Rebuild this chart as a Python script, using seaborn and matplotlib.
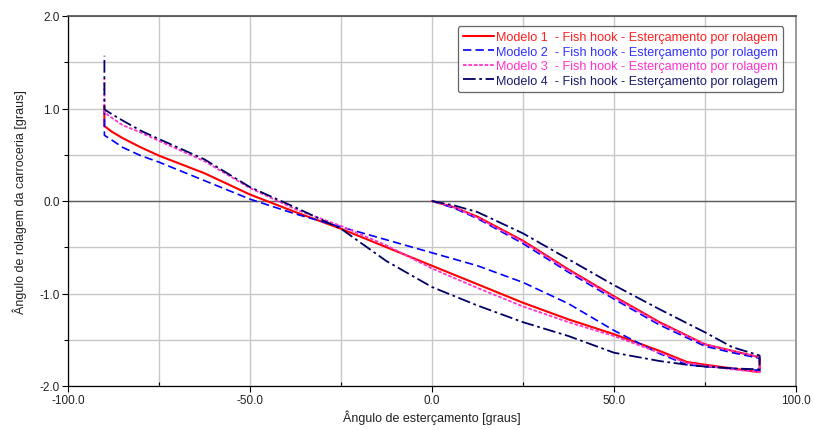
import numpy as np
import pandas as pd
import matplotlib
matplotlib.use("Agg")
import matplotlib.pyplot as plt
from matplotlib.ticker import MultipleLocator, FormatStrFormatter
import seaborn as sns

# steering angle path: 0 -> +90 (upper branch), hold, +90 -> -90 (lower branch), hold
x_up = [0, 6.25, 12.5, 25, 37.5, 50, 62.5, 75, 82.5, 90]
x_down = [90, 82.5, 75, 70, 62.5, 50, 37.5, 25, 12.5, 0, -12.5, -25, -37.5, -50,
          -62.5, -75, -80, -85, -88, -90, -90]

# roll angle, one list per model
m1_up = [0, -0.07, -0.17, -0.43, -0.74, -1.03, -1.31, -1.55, -1.62, -1.69]
m1_down = [-1.85, -1.81, -1.77, -1.74, -1.62, -1.44, -1.28, -1.10, -0.90, -0.70, -0.50,
           -0.30, -0.12, 0.07, 0.30, 0.49, 0.58, 0.68, 0.75, 0.81, 1.03]

m2_up = [0, -0.08, -0.19, -0.46, -0.77, -1.06, -1.34, -1.57, -1.64, -1.70]
m2_down = [-1.83, -1.81, -1.79, -1.77, -1.65, -1.40, -1.11, -0.88, -0.70, -0.56, -0.42,
           -0.28, -0.14, 0.02, 0.22, 0.42, 0.49, 0.58, 0.66, 0.71, 0.98]

m3_up = [0, -0.07, -0.18, -0.44, -0.75, -1.04, -1.32, -1.55, -1.62, -1.69]
m3_down = [-1.85, -1.82, -1.78, -1.75, -1.64, -1.46, -1.31, -1.14, -0.94, -0.73, -0.48,
           -0.27, -0.09, 0.14, 0.43, 0.65, 0.74, 0.82, 0.90, 0.96, 1.32]

m4_up = [0, -0.05, -0.12, -0.35, -0.63, -0.91, -1.17, -1.42, -1.58, -1.67]
m4_down = [-1.82, -1.81, -1.79, -1.77, -1.73, -1.64, -1.46, -1.31, -1.13, -0.93, -0.65,
           -0.30, -0.07, 0.15, 0.45, 0.67, 0.76, 0.87, 0.94, 0.99, 1.57]

labels = ["Modelo 1  - Fish hook - Esterçamento por rolagem",
          "Modelo 2  - Fish hook - Esterçamento por rolagem",
          "Modelo 3  - Fish hook - Esterçamento por rolagem",
          "Modelo 4  - Fish hook - Esterçamento por rolagem"]
colors = ["#ff0000", "#0000ff", "#ff33cc", "#000066"]
text_colors = ["#ff2020", "#3030ff", "#ff33cc", "#1a1a70"]
dashes = [None, (5, 2.5), (2, 1), (7, 2, 1.5, 2)]
widths = [1.5, 1.2, 1.3, 1.3]

sns.set_theme(style="white")
plt.rcParams["font.family"] = ["Liberation Sans", "DejaVu Sans"]

fig = plt.figure(figsize=(8.14, 4.31), dpi=100)
ax = fig.add_axes([68 / 814, 1 - 387 / 431, (796 - 68) / 814, (387 - 17) / 431])

models = [(m1_up, m1_down), (m2_up, m2_down), (m3_up, m3_down), (m4_up, m4_down)]
for i, (up, down) in enumerate(models):
    df = pd.DataFrame({"x": x_up + x_down, "y": up + down})
    sns.lineplot(data=df, x="x", y="y", sort=False, estimator=None, ax=ax,
                 color=colors[i], linewidth=widths[i], label=labels[i])
    if dashes[i] is not None:
        ax.get_lines()[-1].set_dashes(dashes[i])

ax.set_xlim(-100, 100)
ax.set_ylim(-2, 2)
ax.xaxis.set_major_locator(MultipleLocator(50))
ax.xaxis.set_minor_locator(MultipleLocator(25))
ax.yaxis.set_major_locator(MultipleLocator(1))
ax.yaxis.set_minor_locator(MultipleLocator(0.5))
ax.xaxis.set_major_formatter(FormatStrFormatter("%.1f"))
ax.yaxis.set_major_formatter(FormatStrFormatter("%.1f"))
ax.grid(True, which="both", color="#c8c8c8", linewidth=1.0)
ax.axhline(0, color="#606060", linewidth=1.0, zorder=1.5)
ax.set_axisbelow(True)

ax.tick_params(axis="both", which="major", direction="out", length=4, width=0.8,
               labelsize=8.5, labelcolor="#222222", color="black", bottom=True, left=True)
ax.tick_params(axis="y", which="minor", direction="out", length=3, width=0.8,
               color="black", left=True)
ax.tick_params(axis="x", which="minor", direction="in", length=3, width=0.8,
               color="black", bottom=True)
ax.tick_params(axis="x", pad=2)
ax.tick_params(axis="y", pad=2)

for side in ["left", "bottom"]:
    ax.spines[side].set_color("black")
    ax.spines[side].set_linewidth(0.9)
ax.spines["top"].set_color("#505050")
ax.spines["right"].set_color("#909090")

ax.set_xlabel("Ângulo de esterçamento [graus]", fontsize=9, color="#222222", labelpad=2)
ax.set_ylabel("Ângulo de rolagem da carroceria [graus]", fontsize=9, color="#222222", labelpad=9)

leg = ax.legend(loc="upper right", bbox_to_anchor=(0.9825, 0.973), fontsize=9.05, frameon=True,
                fancybox=True, handlelength=2.5, handletextpad=0.15, borderpad=0.42,
                labelspacing=0.2, borderaxespad=0)
leg.get_frame().set_edgecolor("#404040")
leg.get_frame().set_linewidth(0.9)
for t, c in zip(leg.get_texts(), text_colors):
    t.set_color(c)

fig.savefig("out.png", dpi=100)
